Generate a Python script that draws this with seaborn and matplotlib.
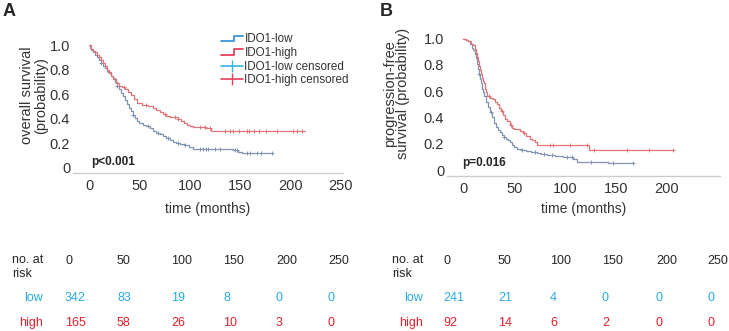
import numpy as np
import pandas as pd
import matplotlib
matplotlib.use("Agg")
import matplotlib.pyplot as plt
import seaborn as sns
from matplotlib.lines import Line2D
from matplotlib.legend_handler import HandlerBase

# ---- panel A: overall survival (step times / survival) ----
os_low_t = [0, 1, 2, 4, 6, 8, 10, 12, 14, 16, 18, 20, 22, 24, 26, 28, 30, 32, 34, 36, 38, 40, 42, 44, 46, 48,
            50, 53, 56, 60, 63, 66, 70, 73, 76, 80, 83, 86, 90, 95, 99, 103, 143, 148, 152, 182]
os_low_s = [1.0, 0.98, 0.96, 0.94, 0.92, 0.90, 0.88, 0.855, 0.83, 0.81, 0.79, 0.77, 0.75, 0.73, 0.70, 0.67,
            0.64, 0.61, 0.585, 0.555, 0.52, 0.49, 0.46, 0.43, 0.405, 0.38, 0.365, 0.35, 0.335, 0.32, 0.30,
            0.285, 0.27, 0.255, 0.24, 0.225, 0.21, 0.20, 0.19, 0.18, 0.17, 0.155, 0.14, 0.13, 0.115, 0.115]
os_high_t = [0, 2, 4, 6, 8, 10, 12, 14, 16, 18, 20, 22, 24, 27, 30, 33, 36, 39, 42, 45, 48, 52, 58, 63, 66,
             70, 73, 76, 80, 88, 91, 94, 97, 100, 103, 116, 121, 214]
os_high_s = [1.0, 0.97, 0.955, 0.94, 0.92, 0.90, 0.88, 0.85, 0.83, 0.80, 0.78, 0.75, 0.72, 0.69, 0.67, 0.66,
             0.64, 0.62, 0.59, 0.56, 0.53, 0.51, 0.50, 0.49, 0.47, 0.455, 0.44, 0.42, 0.41, 0.40, 0.38, 0.365,
             0.35, 0.34, 0.33, 0.32, 0.30, 0.30]
os_low_cens = [12, 28, 44, 58, 68, 78, 88, 95, 110, 113, 116, 118, 125, 130, 145, 147, 157, 160, 167, 171, 182]
os_high_cens = [20, 35, 56, 75, 85, 88, 110, 115, 120, 135, 140, 143, 149, 157, 159, 164, 169, 176, 186, 202, 206, 211]

# ---- panel B: progression-free survival ----
pfs_low_t = [0, 3, 5, 7, 9, 10, 11, 12, 13, 14, 15, 16, 17, 18, 19, 20, 22, 24, 26, 28, 30, 32, 34, 36, 38,
             40, 42, 44, 46, 48, 50, 53, 57, 62, 66, 72, 76, 82, 90, 98, 108, 112, 142, 167]
pfs_low_s = [1.0, 0.99, 0.98, 0.96, 0.93, 0.91, 0.88, 0.85, 0.81, 0.77, 0.73, 0.69, 0.66, 0.62, 0.59, 0.56,
             0.52, 0.48, 0.44, 0.40, 0.36, 0.33, 0.305, 0.29, 0.27, 0.255, 0.24, 0.225, 0.21, 0.19, 0.175,
             0.16, 0.15, 0.145, 0.14, 0.13, 0.125, 0.118, 0.11, 0.10, 0.085, 0.065, 0.055, 0.055]
pfs_high_t = [0, 3, 5, 8, 10, 11, 12, 13, 14, 15, 16, 17, 18, 19, 20, 21, 22, 23, 26, 29, 31, 33, 35, 37, 39,
              41, 43, 46, 48, 50, 56, 59, 62, 65, 67, 70, 72, 123, 206]
pfs_high_s = [1.0, 0.99, 0.98, 0.96, 0.95, 0.92, 0.89, 0.86, 0.83, 0.79, 0.76, 0.73, 0.70, 0.68, 0.66, 0.62,
              0.59, 0.56, 0.55, 0.54, 0.52, 0.50, 0.47, 0.45, 0.42, 0.39, 0.37, 0.34, 0.32, 0.31, 0.30, 0.28,
              0.26, 0.24, 0.23, 0.21, 0.19, 0.15, 0.15]
pfs_low_cens = [15, 27, 40, 58, 70, 79, 87, 102, 107, 125, 147, 167]
pfs_high_cens = [25, 38, 47, 60, 85, 88, 105, 121, 128, 161, 182, 206]

# ---- numbers at risk ----
risk_times = ["0", "50", "100", "150", "200", "250"]
os_risk_low = [342, 83, 19, 8, 0, 0]
os_risk_high = [165, 58, 26, 10, 3, 0]
pfs_risk_low = [241, 21, 4, 0, 0, 0]
pfs_risk_high = [92, 14, 6, 2, 0, 0]

low_line, high_line = "#8193b3", "#e27479"
low_txt, high_txt = "#29aae1", "#e3202b"

sns.set_style("white")
plt.rcParams["font.family"] = ["Liberation Sans", "DejaVu Sans"]

W, H = 729, 331
fig = plt.figure(figsize=(W / 100, H / 100), dpi=100)


def px(x, y):
    return x / W, 1 - y / H


def step_value(t, s, x):
    i = np.searchsorted(t, x, side="right") - 1
    return np.asarray(s)[i]


class StepHandler(HandlerBase):
    # little step icon used in the legend for the survival lines
    def create_artists(self, legend, orig_handle, xdescent, ydescent, width, height, fontsize, trans):
        xs = np.array([0, 0.6, 0.6, 1.0]) * width - xdescent
        ys = np.array([0.15, 0.15, 0.85, 0.85]) * height - ydescent
        ln = Line2D(xs, ys, color=orig_handle.get_color(), lw=1.3)
        ln.set_transform(trans)
        return [ln]


def km_panel(ax, low_t, low_s, high_t, high_s, low_c, high_c, xticks):
    for t, s, c, col in [(low_t, low_s, low_c, low_line), (high_t, high_s, high_c, high_line)]:
        df = pd.DataFrame({"time": t, "surv": s})
        sns.lineplot(data=df, x="time", y="surv", ax=ax, color=col, lw=0.9,
                     drawstyle="steps-post", estimator=None, legend=False)
        cy = step_value(t, s, c)
        sns.scatterplot(x=c, y=cy, ax=ax, marker="+", s=7, color=col, linewidth=0.7, legend=False)
    ax.set_xlim(-16, 252)
    ax.set_ylim(-0.045, 1.05)
    ax.set_xticks(xticks)
    ax.set_yticks([0, 0.2, 0.4, 0.6, 0.8, 1.0])
    ax.set_yticklabels(["0", "0.2", "0.4", "0.6", "0.8", "1.0"])
    ax.tick_params(axis="both", length=0, labelsize=10.5, labelcolor="#333333", pad=4)
    ax.tick_params(axis="y", pad=2)
    for sp in ["left", "top", "right"]:
        ax.spines[sp].set_visible(False)
    ax.spines["bottom"].set_color("#cccccc")
    ax.spines["bottom"].set_linewidth(1.0)
    ax.set_xlabel("time (months)", fontsize=10, color="#333333")


axA = fig.add_axes([73 / W, 1 - 173 / H, 270 / W, 134 / H])
km_panel(axA, os_low_t, os_low_s, os_high_t, os_high_s, os_low_cens, os_high_cens,
         [0, 50, 100, 150, 200, 250])
axA.set_ylabel("overall survival\n(probability)", fontsize=10.5, color="#333333", linespacing=0.95)
axA.yaxis.set_label_coords(-0.093, 0.58)
axA.xaxis.set_label_coords(0.5, -0.215)

axB = fig.add_axes([447 / W, 1 - 176 / H, 273 / W, 144 / H])
km_panel(axB, pfs_low_t, pfs_low_s, pfs_high_t, pfs_high_s, pfs_low_cens, pfs_high_cens,
         [0, 50, 100, 150, 200])
axB.set_ylabel("progression-free\nsurvival (probability)", fontsize=10.5, color="#333333", linespacing=0.95)
axB.yaxis.set_label_coords(-0.1355, 0.575)
axB.xaxis.set_label_coords(0.5, -0.18)

handles = [Line2D([], [], color="#3a95d8"), Line2D([], [], color="#e2405c"),
           Line2D([], [], color="#33b4e2", marker="|", markersize=9, lw=1.2),
           Line2D([], [], color="#e2405c", marker="|", markersize=9, lw=1.2)]
labels = ["IDO1-low", "IDO1-high", "IDO1-low censored", "IDO1-high censored"]
step_h = StepHandler()
axA.legend(handles, labels, loc="upper left", bbox_to_anchor=px(210, 23), bbox_transform=fig.transFigure,
           frameon=False, fontsize=8.4, handlelength=1.9, handletextpad=0.15, labelspacing=0.14,
           handler_map={handles[0]: step_h, handles[1]: step_h}, labelcolor="#333333")

fig.text(*px(9, 12), "A", fontsize=13, fontweight="bold", ha="center", va="center")
fig.text(*px(386, 12), "B", fontsize=13, fontweight="bold", ha="center", va="center")
fig.text(*px(91, 162), "p<0.001", fontsize=8.5, fontweight="bold", ha="left", va="center")
fig.text(*px(462, 163), "p=0.016", fontsize=8.5, fontweight="bold", ha="left", va="center")

# numbers-at-risk tables
tables = [(12, 43, [65, 117, 171, 223, 276, 328], os_risk_low, os_risk_high),
          (392, 423, [443, 498, 550, 602, 656, 707], pfs_risk_low, pfs_risk_high)]
for x_head, x_row, cols, r_low, r_high in tables:
    fig.text(*px(x_head, 267), "no. at\nrisk", fontsize=9, ha="left", va="center", linespacing=1.15)
    fig.text(*px(x_row, 298), "low", fontsize=9, color=low_txt, ha="right", va="center")
    fig.text(*px(x_row, 323), "high", fontsize=9, color=high_txt, ha="right", va="center")
    for xc, lab, a, b in zip(cols, risk_times, r_low, r_high):
        fig.text(*px(xc, 261), lab, fontsize=9, ha="left", va="center")
        fig.text(*px(xc, 298), str(a), fontsize=9, color=low_txt, ha="left", va="center")
        fig.text(*px(xc, 323), str(b), fontsize=9, color=high_txt, ha="left", va="center")

fig.savefig("out.png", dpi=100)
